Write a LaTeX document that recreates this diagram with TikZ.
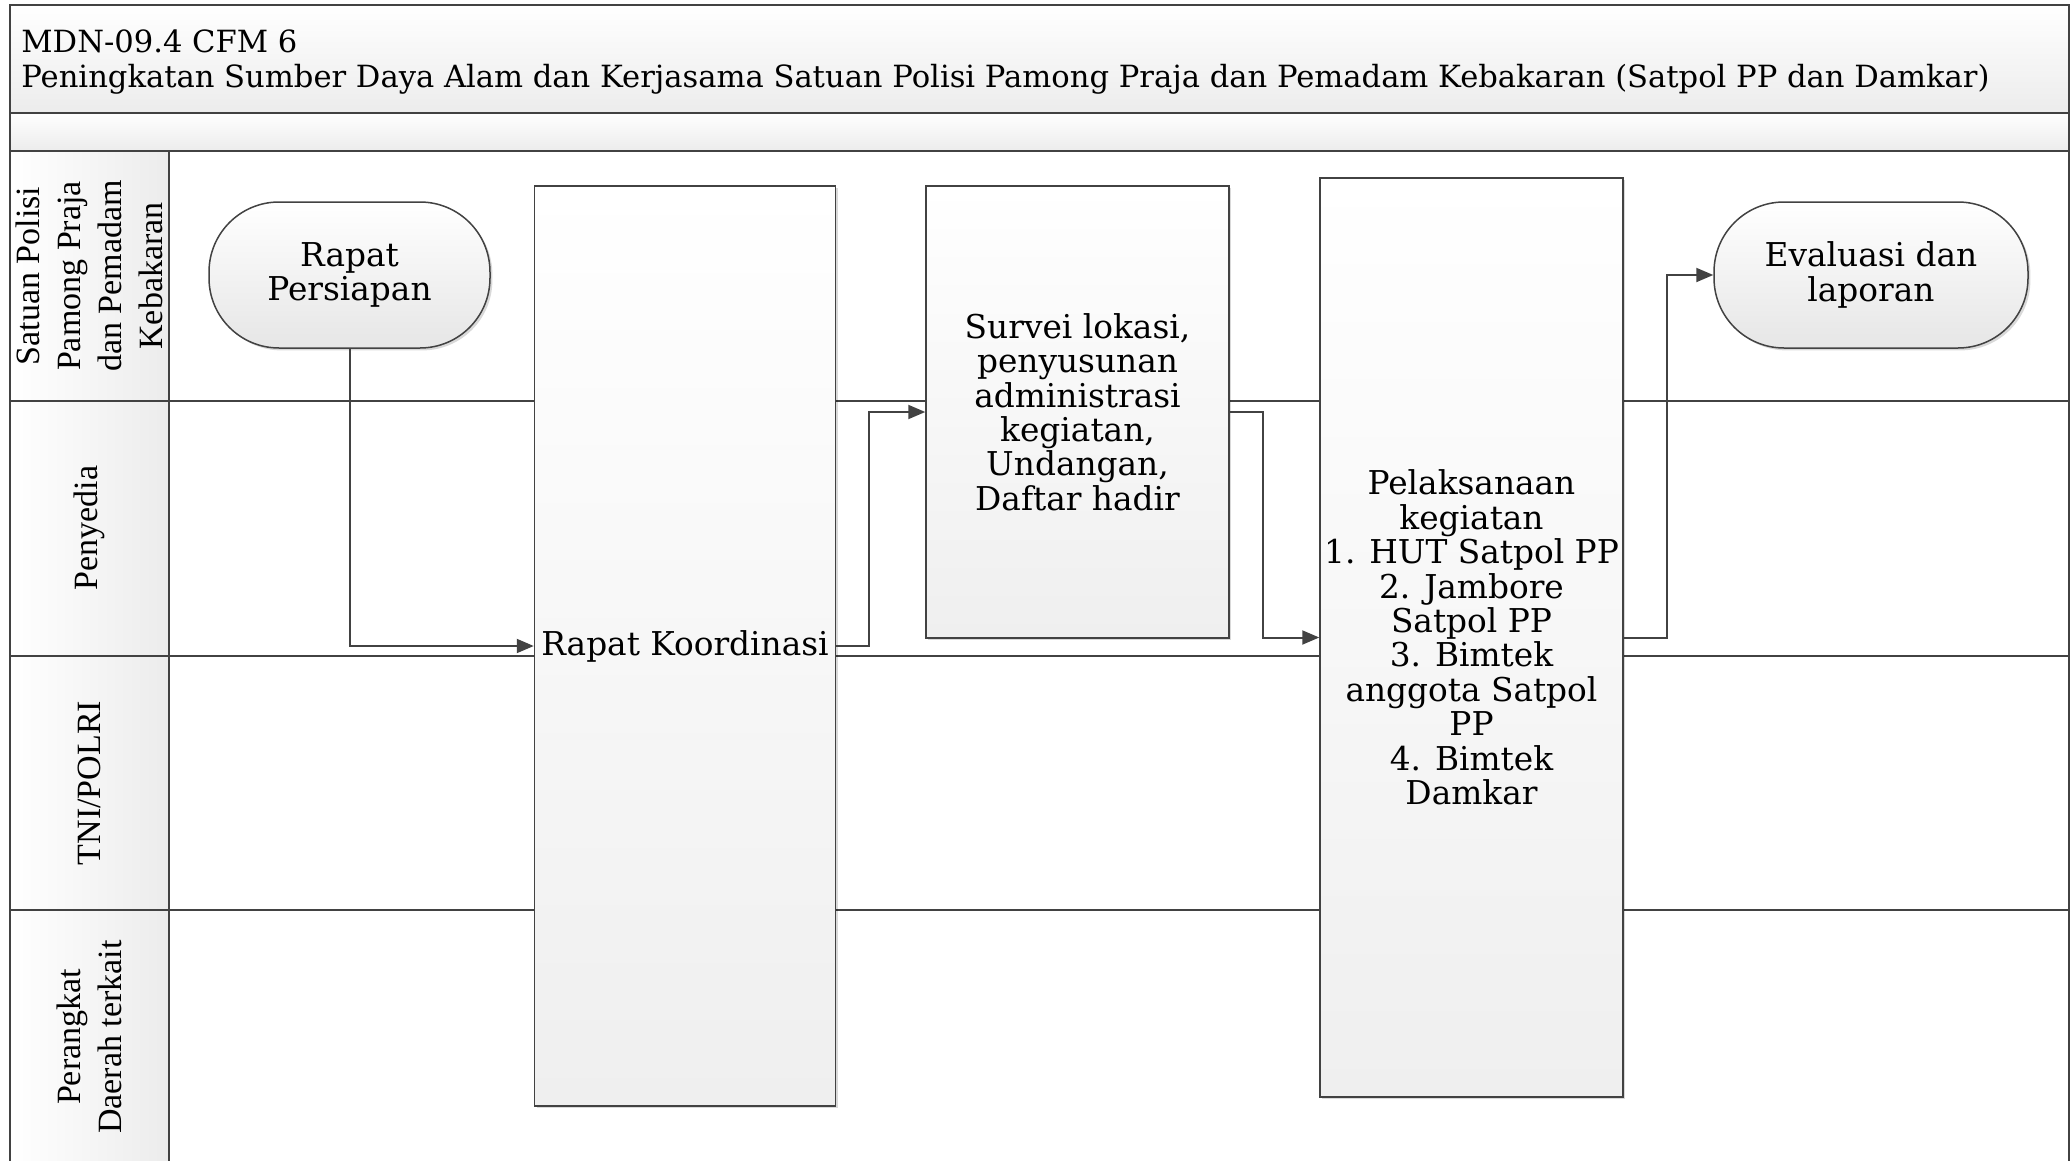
\documentclass[tikz,border=0pt]{standalone}
\usepackage{fontspec}
\setmainfont{DejaVu Serif}
\newfontfamily\lanefont{Liberation Serif}
\usetikzlibrary{arrows.meta,shadows}
\definecolor{ln}{HTML}{424242}
\definecolor{gbot}{HTML}{ECECEC}
\definecolor{nbot}{HTML}{EFEFEF}
\definecolor{tbot}{HTML}{E6E6E6}
\tikzset{
  frame/.style={draw=ln, line width=0.8pt},
  lanesep/.style={draw=ln, line width=0.8pt},
  lanelabel/.style={rotate=90, align=center, inner sep=0pt, font=\lanefont\fontsize{17}{20.5}\selectfont},
  shade/.style={drop shadow={shadow xshift=1.2pt, shadow yshift=-1.2pt, opacity=0.15, fill=black}},
  procbox/.style={rectangle, draw=ln, line width=0.75pt, top color=white, bottom color=nbot, shade,
     inner sep=0pt, align=center, font=\fontsize{16.4}{17.2}\selectfont},
  termbox/.style={rectangle, rounded corners=35pt, draw=ln, line width=0.75pt, top color=white, bottom color=tbot, shade,
     inner sep=0pt, align=center, font=\fontsize{16.4}{17.2}\selectfont},
  flow/.style={draw=ln, line width=1pt, -{Triangle[length=8.5pt,width=7pt]}},
  titletext/.style={inner sep=0pt, font=\fontsize{15.3}{17.2}\selectfont}
}
\begin{document}
\begin{tikzpicture}[x=0.5pt,y=-0.5pt]
\useasboundingbox (0,0) rectangle (2072,1161);
\fill[white] (0,0) rectangle (2072,1161);
% header
\path[top color=white, bottom color=gbot] (10,5) rectangle (2069,113);
\path[top color=white, bottom color=gbot] (10,113) rectangle (2069,151);
% lane header column
\path[left color=white, right color=gbot] (10,151) rectangle (169,1165);
% lane lines
\draw[lanesep] (10,113) -- (2069,113);
\draw[lanesep] (10,151) -- (2069,151);
\draw[lanesep] (10,401) -- (2069,401);
\draw[lanesep] (10,656) -- (2069,656);
\draw[lanesep] (10,910) -- (2069,910);
\draw[lanesep] (169,151) -- (169,1165);
\draw[frame] (10,1165) -- (10,5) -- (2069,5) -- (2069,1165);
% titles
\node[titletext, anchor=base west] (t1) at (21,53) {MDN-09.4 CFM 6};
\node[titletext, anchor=base west] (t2) at (21,88) {Peningkatan Sumber Daya Alam dan Kerjasama Satuan Polisi Pamong Praja dan Pemadam Kebakaran (Satpol PP dan Damkar)};
% lane labels
\node[lanelabel] (l1) at (89.5,276) {Satuan Polisi\\Pamong Praja\\dan Pemadam\\Kebakaran};
\node[lanelabel] (l2) at (89.5,528) {Penyedia};
\node[lanelabel] (l3) at (89.5,783) {TNI/POLRI};
\node[lanelabel] (l4) at (89.5,1037) {Perangkat\\Daerah terkait};
% nodes
\node[termbox, minimum width=140.5pt, minimum height=73pt] (rp) at (349.5,275) {Rapat\\Persiapan};
\node[procbox, minimum width=150.5pt, minimum height=460pt] (rk) at (685,646) {Rapat Koordinasi};
\node[procbox, minimum width=151.5pt, minimum height=226pt] (sv) at (1077.5,412) {Survei lokasi,\\penyusunan\\administrasi\\kegiatan,\\Undangan,\\Daftar hadir};
\node[procbox, minimum width=151.5pt, minimum height=459.5pt] (pk) at (1471.5,637.5) {Pelaksanaan\\kegiatan\\1. HUT Satpol PP\\2. Jambore\\Satpol PP\\3. Bimtek\\anggota Satpol\\PP\\4. Bimtek\\Damkar};
\node[termbox, minimum width=157pt, minimum height=73pt] (ev) at (1871,275) {Evaluasi dan\\laporan};
% connectors
\draw[flow] (rp.south) |- (rk.west);
\draw[flow] (rk.east) -- ++(33,0) |- (sv.west);
\draw[flow] (sv.east) -- ++(33,0) |- (pk.west);
\draw[flow] (pk.east) -- ++(43,0) |- (ev.west);
\end{tikzpicture}
\end{document}
